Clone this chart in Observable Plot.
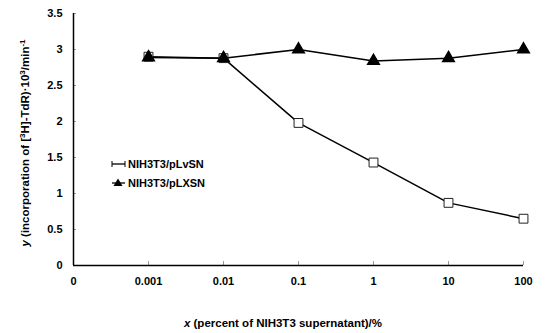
<!DOCTYPE html>
<html><head><meta charset="utf-8">
<script src="https://cdn.jsdelivr.net/npm/d3@7"></script>
<script src="https://cdn.jsdelivr.net/npm/@observablehq/plot@0.6"></script>
<style>
body{margin:0;background:#fff;}
svg{font-family:"Liberation Sans",Arial,sans-serif;}
svg text{font-weight:bold;}
</style></head><body><div id="chart"></div>
<script>
const xTicks = ["0","0.001","0.01","0.1","1","10","100"];
const xCats = ["0.001","0.01","0.1","1","10","100"];
const pLvSN = [2.9, 2.88, 1.98, 1.43, 0.87, 0.65];
const pLXSN = [2.89, 2.88, 3.0, 2.84, 2.88, 3.0];
const yTicks = [0, 0.5, 1, 1.5, 2, 2.5, 3, 3.5];
const seriesNames = ["NIH3T3/pLvSN", "NIH3T3/pLXSN"];

const sq = xCats.map((x,i)=>({x, y:pLvSN[i]}));
const tr = xCats.map((x,i)=>({x, y:pLXSN[i]}));

const plot = Plot.plot({
  width:545, height:333,
  marginLeft:73, marginRight:22, marginTop:13, marginBottom:68,
  style:{fontFamily:"Liberation Sans, Arial, sans-serif", fontSize:"11px", color:"#000", background:"#fff"},
  x:{type:"point", domain:xTicks, padding:0},
  y:{domain:[0,3.5]},
  marks:[
    Plot.axisY({ticks:yTicks, tickSize:0, tickPadding:11, tickFormat:d=>String(d), fontSize:11, label:null}),
    Plot.axisY({ticks:yTicks, tickSize:3, dx:3, text:null, stroke:"#999", label:null}),
    Plot.axisX({tickSize:0, tickPadding:12, fontSize:11, label:null}),
    Plot.axisX({tickSize:4, dy:-4, text:null, stroke:"#999", label:null}),
    Plot.ruleX([0], {x:()=>"0", y1:0, y2:3.5, stroke:"#000", strokeWidth:1.5}),
    Plot.ruleY([0], {stroke:"#000", strokeWidth:1.5}),
    Plot.line(sq, {x:"x", y:"y", stroke:"#000", strokeWidth:1.5}),
    Plot.line(tr, {x:"x", y:"y", stroke:"#000", strokeWidth:1.5}),
    Plot.dot(sq, {x:"x", y:"y", symbol:"square", r:5, fill:"#fff", stroke:"#222", strokeWidth:1}),
    Plot.dot(tr, {x:"x", y:"y", symbol:"triangle", r:4.3, fill:"#000", stroke:"#000"})
  ]
});
document.getElementById("chart").appendChild(plot);
const svg = d3.select(plot);

// y label
const yl = svg.append("text").attr("transform","translate(29,143) rotate(-90)")
  .attr("text-anchor","middle").attr("font-size",11.5).attr("fill","#000");
yl.append("tspan").attr("font-style","italic").text("y");
yl.append("tspan").text(" (incorporation of [");
yl.append("tspan").attr("baseline-shift","super").attr("font-size",8).text("3");
yl.append("tspan").text("H]-TdR)·10");
yl.append("tspan").attr("baseline-shift","super").attr("font-size",8).text("3");
yl.append("tspan").text("/min");
yl.append("tspan").attr("baseline-shift","super").attr("font-size",8).text("-1");

// x label
const xl = svg.append("text").attr("x",283).attr("y",327)
  .attr("text-anchor","middle").attr("font-size",11.5).attr("fill","#000");
xl.append("tspan").attr("font-style","italic").text("x");
xl.append("tspan").text(" (percent of NIH3T3 supernatant)/%");

// legend
const lg = svg.append("g").attr("font-size",11).attr("text-anchor","start");
// row 1
lg.append("line").attr("x1",112).attr("x2",125).attr("y1",164).attr("y2",164).attr("stroke","#000").attr("stroke-width",1.3);
lg.append("line").attr("x1",112).attr("x2",112).attr("y1",161).attr("y2",167).attr("stroke","#000");
lg.append("line").attr("x1",125).attr("x2",125).attr("y1",161).attr("y2",167).attr("stroke","#000");
lg.append("text").attr("x",128).attr("y",168).text(seriesNames[0]);
// row 2
lg.append("line").attr("x1",112).attr("x2",125).attr("y1",183).attr("y2",183).attr("stroke","#000").attr("stroke-width",1.3);
lg.append("path").attr("d","M118,178.5 L122.5,186 L113.5,186 Z").attr("fill","#000");
lg.append("text").attr("x",128).attr("y",187).text(seriesNames[1]);
</script></body></html>
